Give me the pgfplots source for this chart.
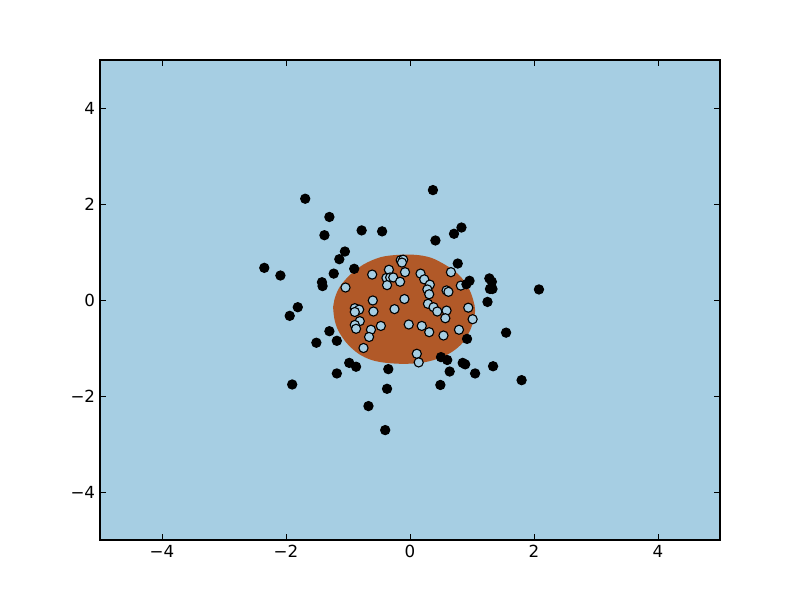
\documentclass[border=0pt]{standalone}
\usepackage{pgfplots}
\pgfplotsset{compat=1.18}
\usepackage{fontspec}
\setmainfont{DejaVu Sans}
\definecolor{pblue}{HTML}{A6CEE3}
\definecolor{pbrown}{HTML}{B15928}
\begin{document}
\begin{tikzpicture}[x=1pt,y=1pt]
\path[use as bounding box] (-72,-43.2) rectangle (504,388.8);
\begin{axis}[at={(0,0)}, anchor=south west,
  width=446.4pt, height=345.6pt, scale only axis,
  xmin=-5, xmax=5, ymin=-5, ymax=5,
  xtick={-4,-2,0,2,4}, xticklabels={−4,−2,0,2,4},
  ytick={-4,-2,0,2,4}, yticklabels={−4,−2,0,2,4},
  tick align=inside, major tick length=4pt,
  tick style={black, line width=0.6pt},
  axis line style={line width=0.8pt},
  ticklabel style={font=\fontsize{12}{14}\selectfont},
  axis on top, clip=true]
\addplot[fill=pblue, draw=none] coordinates {(-5,-5)(5,-5)(5,5)(-5,5)} -- cycle;
\addplot[fill=pbrown, draw=none, smooth, tension=0.55] coordinates {
(-1.24,-0.15)(-1.21,0.05)(-1.13,0.28)(-0.97,0.52)(-0.75,0.74)(-0.48,0.89)(-0.20,0.94)
(0.10,0.94)(0.34,0.88)(0.56,0.74)(0.73,0.59)(0.86,0.42)(0.96,0.21)(1.02,0.0)(1.05,-0.21)
(1.02,-0.44)(0.96,-0.66)(0.85,-0.89)(0.69,-1.07)(0.48,-1.21)(0.22,-1.30)(-0.08,-1.33)(-0.38,-1.31)
(-0.62,-1.25)(-0.83,-1.12)(-1.02,-0.90)(-1.16,-0.63)(-1.22,-0.39)(-1.24,-0.15)};
\addplot[only marks, mark=*, mark size=3.3pt, mark options={fill=pblue, draw=black, line width=0.8pt}] coordinates {
(-0.61,0.53)(-1.04,0.26)(-0.34,0.63)(-0.38,0.46)(-0.32,0.47)(-0.27,0.47)(-0.37,0.31)(-0.15,0.83)
(-0.11,0.84)(-0.13,0.78)(-0.08,0.58)(-0.16,0.38)(0.17,0.55)(0.23,0.43)(0.32,0.32)(0.28,0.22)
(0.31,0.12)(0.66,0.58)(0.59,0.20)(0.62,0.17)(0.82,0.30)(-0.09,0.02)(-0.60,-0.01)(-0.59,-0.24)
(-0.89,-0.17)(-0.82,-0.20)(-0.89,-0.25)(-0.25,-0.19)(0.29,-0.08)(0.38,-0.15)(0.44,-0.24)(0.59,-0.22)
(0.57,-0.38)(0.94,-0.16)(1.01,-0.40)(-0.81,-0.44)(-0.89,-0.52)(-0.87,-0.60)(-0.63,-0.62)(-0.47,-0.54)
(-0.66,-0.77)(-0.75,-1.00)(-0.02,-0.51)(0.19,-0.54)(0.31,-0.67)(0.54,-0.74)(0.79,-0.62)(0.11,-1.12)
(0.14,-1.30)};
\addplot[only marks, mark=*, mark size=3.3pt, mark options={fill=black, draw=black, line width=0.8pt}] coordinates {
(-1.69,2.11)(-1.30,1.73)(-1.38,1.35)(-0.78,1.45)(-0.45,1.43)(0.37,2.29)(0.41,1.24)(0.71,1.38)
(0.83,1.51)(-1.05,1.01)(-1.14,0.85)(-0.90,0.65)(-1.23,0.55)(-2.35,0.67)(-2.09,0.51)(-1.42,0.37)
(-1.41,0.29)(0.77,0.76)(0.96,0.40)(0.91,0.33)(1.28,0.45)(1.32,0.38)(1.29,0.23)(1.33,0.23)
(2.08,0.22)(1.25,-0.04)(-1.81,-0.15)(-1.94,-0.33)(-1.30,-0.65)(-1.51,-0.89)(-1.18,-0.85)(0.92,-0.81)
(1.55,-0.68)(0.50,-1.19)(0.60,-1.25)(0.85,-1.31)(0.89,-1.34)(0.64,-1.49)(1.05,-1.53)(1.34,-1.38)
(1.80,-1.67)(0.49,-1.77)(-0.98,-1.31)(-0.87,-1.39)(-1.18,-1.53)(-0.35,-1.44)(-1.90,-1.76)(-0.37,-1.85)
(-0.67,-2.21)(-0.40,-2.71)};
\end{axis}
\end{tikzpicture}
\end{document}
